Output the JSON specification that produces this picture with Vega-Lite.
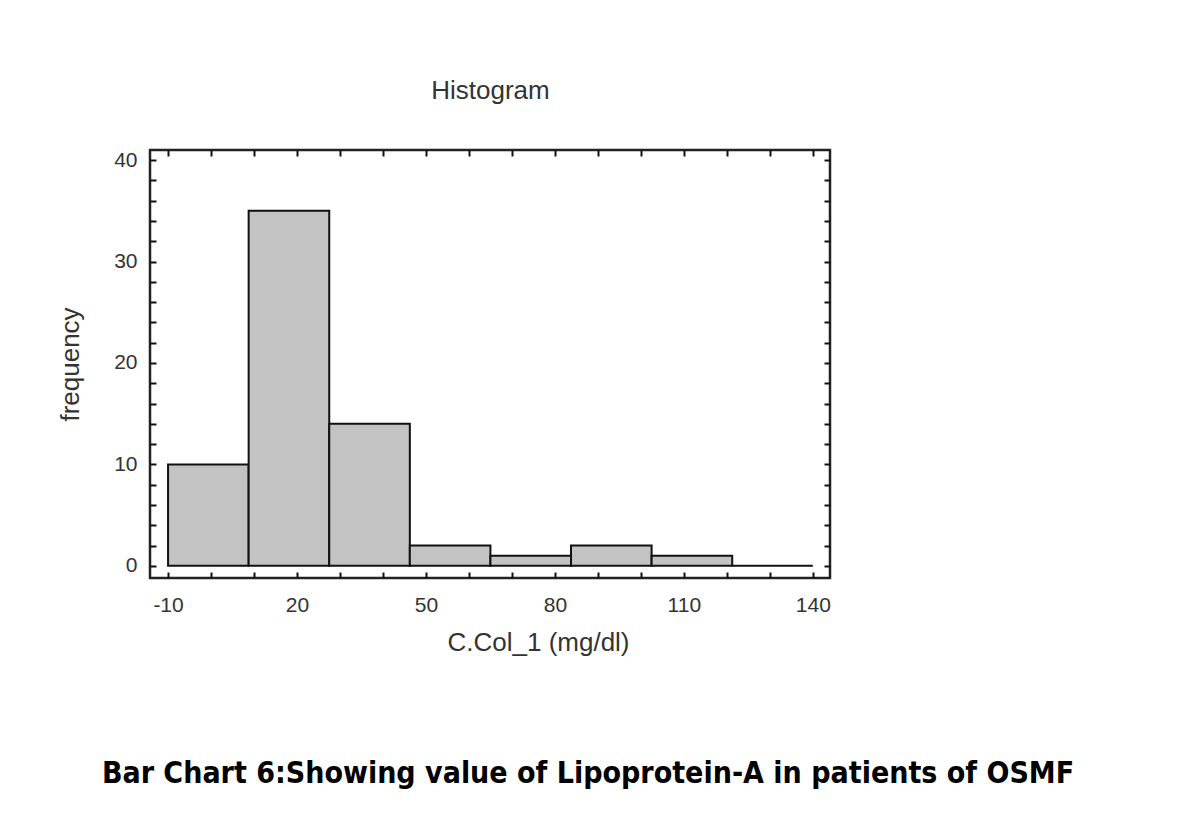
{
  "$schema": "https://vega.github.io/schema/vega-lite/v6.json",
  "autosize": {"type": "none"},
  "padding": {"left": 150, "top": 150, "right": 370, "bottom": 261},
  "width": 680,
  "height": 428,
  "background": "white",
  "config": {
    "view": {"stroke": "#222", "strokeWidth": 2.5},
    "axis": {"grid": false, "domain": false, "labelFont": "Liberation Sans", "titleFont": "Liberation Sans", "labelColor": "#333", "titleColor": "#333", "tickColor": "#111", "tickWidth": 2}
  },
  "title": {
    "text": "Bar Chart 6:Showing value of Lipoprotein-A in patients of OSMF",
    "orient": "bottom",
    "anchor": "middle",
    "font": "DejaVu Sans Condensed",
    "fontWeight": "bold",
    "fontSize": 30,
    "color": "#000",
    "dx": 98,
    "offset": 104
  },
  "data": {
    "values": [
      {"bin_start": -10, "bin_end": 8.75, "count": 10},
      {"bin_start": 8.75, "bin_end": 27.5, "count": 35},
      {"bin_start": 27.5, "bin_end": 46.25, "count": 14},
      {"bin_start": 46.25, "bin_end": 65, "count": 2},
      {"bin_start": 65, "bin_end": 83.75, "count": 1},
      {"bin_start": 83.75, "bin_end": 102.5, "count": 2},
      {"bin_start": 102.5, "bin_end": 121.25, "count": 1},
      {"bin_start": 121.25, "bin_end": 140, "count": 0}
    ]
  },
  "layer": [
    {
      "mark": {"type": "rect", "fill": "#c3c3c3", "stroke": "#111", "strokeWidth": 2},
      "encoding": {
        "x": {"field": "bin_start", "type": "quantitative",
          "scale": {"domain": [-14.2, 144], "nice": false, "zero": false},
          "axis": {"orient": "bottom", "values": [-10,0,10,20,30,40,50,60,70,80,90,100,110,120,130,140],
            "labelExpr": "(datum.value + 10) % 30 == 0 ? toString(datum.value) : ''",
            "tickSize": -6, "labelPadding": 22, "labelFontSize": 21,
            "title": "C.Col_1  (mg/dl)", "titleFontSize": 26, "titleFontWeight": "normal",
            "titlePadding": 14, "titleX": 388, "titleAlign": "center"}},
        "x2": {"field": "bin_end"},
        "y": {"field": "count", "type": "quantitative",
          "scale": {"domain": [-1.2, 41], "nice": false, "zero": false},
          "axis": {"orient": "left", "values": [0,2,4,6,8,10,12,14,16,18,20,22,24,26,28,30,32,34,36,38,40],
            "labelExpr": "datum.value % 10 == 0 ? datum.label : ''",
            "tickSize": -6, "labelPadding": 19, "labelFontSize": 21,
            "title": "frequency", "titleFontSize": 26, "titleFontWeight": "normal", "titlePadding": 30}},
        "y2": {"datum": 0}
      }
    },
    {
      "mark": {"type": "rect", "fillOpacity": 0, "strokeOpacity": 0},
      "encoding": {
        "x": {"field": "bin_start", "type": "quantitative",
          "axis": {"orient": "top", "values": [-10,0,10,20,30,40,50,60,70,80,90,100,110,120,130,140],
            "labels": false, "tickSize": -6,
            "title": "Histogram", "titleFontSize": 26, "titleFontWeight": "normal", "titlePadding": 46}},
        "x2": {"field": "bin_end"},
        "y": {"field": "count", "type": "quantitative",
          "axis": {"orient": "right", "values": [0,2,4,6,8,10,12,14,16,18,20,22,24,26,28,30,32,34,36,38,40],
            "labels": false, "tickSize": -6, "title": null}},
        "y2": {"datum": 0}
      }
    }
  ],
  "resolve": {"axis": {"x": "independent", "y": "independent"}}
}
